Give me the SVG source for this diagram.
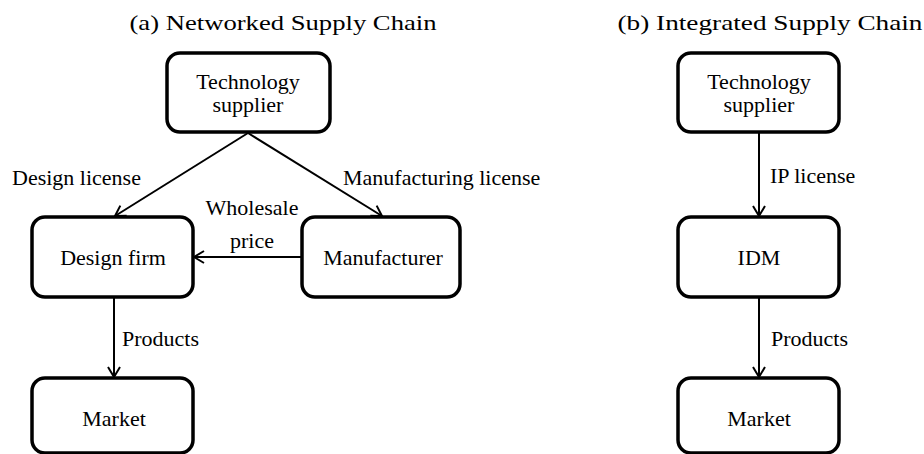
<svg xmlns="http://www.w3.org/2000/svg" width="924" height="454" viewBox="0 0 924 454">
<style>
.box{fill:#fff;stroke:#000;stroke-width:3.5}
text{font-family:'Liberation Serif','Times New Roman','DejaVu Serif',serif;font-size:22px;fill:#000}
.c{text-anchor:middle}
.e{fill:none;stroke:#000;stroke-width:2}
</style>
<defs>
<marker id="ah" markerUnits="userSpaceOnUse" viewBox="0 0 12 14" refX="11" refY="7" markerWidth="12" markerHeight="14" orient="auto">
<path d="M1,1 L11,7 L1,13" fill="none" stroke="#000" stroke-width="2"/>
</marker>
</defs>
<text class="c" x="283" y="30" textLength="307" lengthAdjust="spacingAndGlyphs">(a) Networked Supply Chain</text>
<text class="c" x="770" y="30" textLength="305" lengthAdjust="spacingAndGlyphs">(b) Integrated Supply Chain</text>
<g id="connectors">
<line class="e" x1="248" y1="133" x2="115" y2="216" marker-end="url(#ah)"/>
<line class="e" x1="248" y1="133" x2="382" y2="216" marker-end="url(#ah)"/>
<line class="e" x1="302" y1="257" x2="194" y2="257" marker-end="url(#ah)"/>
<line class="e" x1="114" y1="297" x2="114" y2="377" marker-end="url(#ah)"/>
<line class="e" x1="759" y1="132" x2="759" y2="216" marker-end="url(#ah)"/>
<line class="e" x1="759" y1="297" x2="759" y2="377" marker-end="url(#ah)"/>
<text x="12" y="185">Design license</text>
<text x="343" y="185">Manufacturing license</text>
<text class="c" x="252" y="215">Wholesale</text>
<text class="c" x="252" y="248">price</text>
<text x="122" y="346">Products</text>
<text x="770" y="183">IP license</text>
<text x="771" y="346">Products</text>
</g>
<g id="tech_a">
<rect class="box" x="167" y="53" width="163" height="79" rx="13"/>
<text class="c" x="248" y="89">Technology</text>
<text class="c" x="248" y="112">supplier</text>
</g>
<g id="design_firm">
<rect class="box" x="32" y="217" width="161" height="80" rx="13"/>
<text class="c" x="113" y="265">Design firm</text>
</g>
<g id="manufacturer">
<rect class="box" x="302" y="217" width="158" height="80" rx="13"/>
<text class="c" x="383" y="265">Manufacturer</text>
</g>
<g id="market_a">
<rect class="box" x="32" y="378" width="161" height="75" rx="13"/>
<text class="c" x="114" y="426">Market</text>
</g>
<g id="tech_b">
<rect class="box" x="678" y="53" width="161" height="79" rx="13"/>
<text class="c" x="759" y="89">Technology</text>
<text class="c" x="759" y="112">supplier</text>
</g>
<g id="idm">
<rect class="box" x="678" y="217" width="161" height="80" rx="13"/>
<text class="c" x="759" y="265">IDM</text>
</g>
<g id="market_b">
<rect class="box" x="678" y="378" width="161" height="75" rx="13"/>
<text class="c" x="759" y="426">Market</text>
</g>
</svg>
